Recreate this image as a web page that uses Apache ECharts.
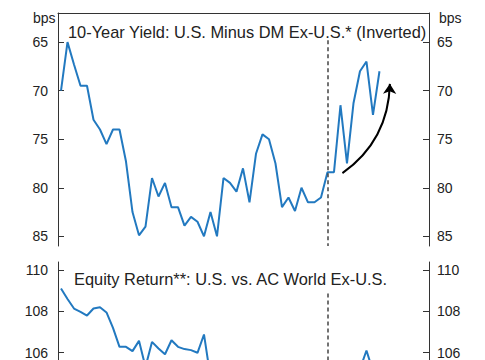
<!DOCTYPE html>
<html>
<head>
<meta charset="utf-8">
<script src="https://cdn.jsdelivr.net/npm/echarts@6/dist/echarts.min.js"></script>
<style>html,body{margin:0;padding:0;background:#fff}#c{width:485px;height:360px}</style>
</head>
<body>
<div id="c"></div>
<script>
// 10-Year Yield spread (bps, inverted axis)
const yieldVals = [70.0, 65.0, 67.3, 69.5, 69.5, 73.0, 74.0, 75.5, 74.0, 74.0,
  77.3, 82.5, 84.9, 84.0, 79.0, 80.9, 79.5, 82.0, 82.0, 83.9,
  83.0, 83.5, 85.0, 82.5, 85.0, 79.0, 79.5, 80.4, 78.0, 81.5,
  76.5, 74.5, 75.0, 77.5, 82.0, 81.0, 82.4, 80.0, 81.5, 81.5,
  81.0, 78.4, 78.4, 71.5, 77.5, 71.3, 68.0, 67.0, 72.5, 68.0];
// Equity relative return index (values after index 22 mostly fall below the visible area)
const equityVals = [109.11, 108.6, 108.14, 107.98, 107.8, 108.14, 108.2, 107.95, 107.2, 106.28,
  106.28, 106.07, 106.57, 105.3, 106.52, 106.2, 105.92, 106.6, 106.28, 106.17,
  106.12, 105.99, 106.88, 104.8, 104.5, 104.2, 103.8, 104.0, 103.6, 104.1,
  104.4, 104.0, 103.7, 103.9, 104.3, 104.8, 104.5, 104.2, 104.6, 104.9,
  104.7, 105.0, 104.8, 105.1, 105.2, 104.9, 105.2, 106.1, 105.1, 105.3];
const yieldTicks = [65, 70, 75, 80, 85];
const equityTicks = [106, 108, 110];
const eventIndex = 41;
const arrowFrom = [43.3, 78.5];
const arrowTo = [50.6, 69.3];
const yieldTitle = '10-Year Yield: U.S. Minus DM Ex-U.S.* (Inverted)';
const equityTitle = 'Equity Return**: U.S. vs. AC World Ex-U.S.';
const unitLabel = 'bps';

const FONT = 'Liberation Sans, Arial, sans-serif';
const AX = '#333';
const BLUE = '#2279c0';
const xMin = -0.4615, xMax = 56.62;

function yAx(grid, pos, min, max, ticks, inverse) {
  return {
    type: 'value', gridIndex: grid, position: pos, min: min, max: max, inverse: inverse,
    axisLine: {show: true, onZero: false, lineStyle: {color: AX, width: 1}},
    axisTick: {show: true, inside: true, length: 6, customValues: ticks, lineStyle: {color: AX}},
    axisLabel: {show: true, customValues: ticks, margin: pos === 'left' ? 10 : 8,
      fontSize: 14, color: '#222', fontFamily: FONT},
    splitLine: {show: false}
  };
}

const chart = echarts.init(document.getElementById('c'), null, {renderer: 'svg'});
chart.setOption({
  animation: false,
  backgroundColor: '#fff',
  title: [
    {text: yieldTitle, left: 63, top: 19, textStyle: {fontSize: 16.4, fontWeight: 'normal', color: '#222', fontFamily: FONT}},
    {text: equityTitle, left: 69, top: 266, textStyle: {fontSize: 16.4, fontWeight: 'normal', color: '#222', fontFamily: FONT}},
    {text: unitLabel, left: 28, top: 6, textStyle: {fontSize: 14, fontWeight: 'normal', color: '#222', fontFamily: FONT}},
    {text: unitLabel, left: 434, top: 6, textStyle: {fontSize: 14, fontWeight: 'normal', color: '#222', fontFamily: FONT}}
  ],
  grid: [
    {left: 58, top: 13, width: 371, height: 233},
    {left: 58, top: 262, width: 371, height: 98}
  ],
  xAxis: [
    {type: 'value', gridIndex: 0, position: 'top', min: xMin, max: xMax,
      axisLine: {show: true, onZero: false, lineStyle: {color: AX, width: 1}},
      axisTick: {show: false}, axisLabel: {show: false}, splitLine: {show: false}},
    {type: 'value', gridIndex: 1, min: xMin, max: xMax,
      axisLine: {show: false}, axisTick: {show: false}, axisLabel: {show: false}, splitLine: {show: false}}
  ],
  yAxis: [
    yAx(0, 'left', 62, 86, yieldTicks, true),
    yAx(0, 'right', 62, 86, yieldTicks, true),
    yAx(1, 'left', 105.64, 110.4, equityTicks, false),
    yAx(1, 'right', 105.64, 110.4, equityTicks, false)
  ],
  series: [
    {type: 'line', xAxisIndex: 0, yAxisIndex: 0, showSymbol: false, silent: true,
      data: yieldVals.map((v, i) => [i, v]),
      lineStyle: {color: BLUE, width: 2},
      markLine: {silent: true, symbol: 'none', label: {show: false},
        lineStyle: {color: '#444', type: [4, 3], width: 1.5},
        data: [[{coord: [eventIndex, 64.8]}, {coord: [eventIndex, 86]}]]}},
    {type: 'lines', coordinateSystem: 'cartesian2d', xAxisIndex: 0, yAxisIndex: 0, silent: true,
      symbol: ['none', 'arrow'], symbolSize: 10,
      lineStyle: {color: '#000', width: 2, curveness: -0.25, opacity: 1},
      data: [{coords: [arrowFrom, arrowTo]}]},
    {type: 'line', xAxisIndex: 1, yAxisIndex: 2, showSymbol: false, silent: true, clip: true,
      data: equityVals.map((v, i) => [i, v]),
      lineStyle: {color: BLUE, width: 2},
      markLine: {silent: true, symbol: 'none', label: {show: false},
        lineStyle: {color: '#444', type: [4, 3], width: 1.5},
        data: [[{coord: [eventIndex, 108.87]}, {coord: [eventIndex, 105.64]}]]}}
  ]
});
</script>
</body>
</html>
